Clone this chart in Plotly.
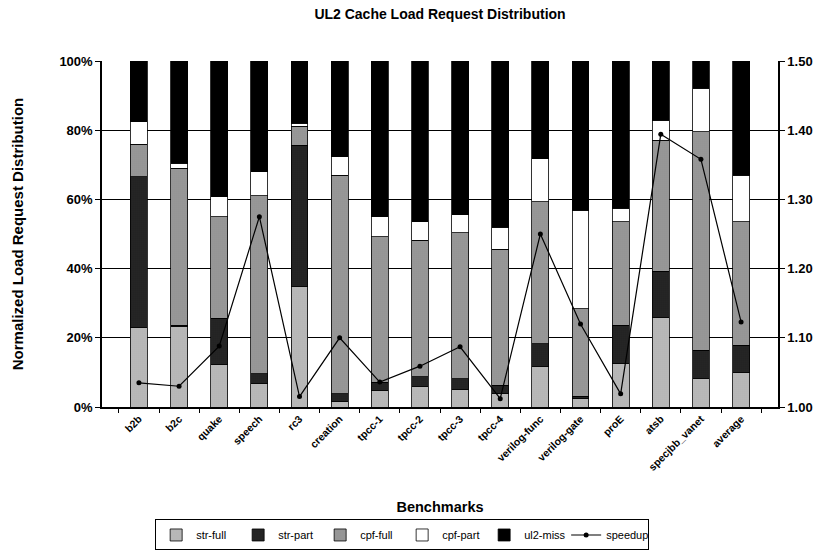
import plotly.graph_objects as go

categories = ["b2b", "b2c", "quake", "speech", "rc3", "creation", "tpcc-1", "tpcc-2",
              "tpcc-3", "tpcc-4", "verilog-func", "verilog-gate", "proE", "atsb",
              "specjbb_vanet", "average"]

str_full = [23.0, 23.2, 12.3, 6.8, 34.9, 1.5, 4.8, 5.8, 5.1, 3.9, 11.6, 2.4, 12.5, 26.0, 8.2, 10.1]
str_part = [43.5, 0.5, 13.4, 2.8, 40.8, 2.4, 2.4, 2.9, 3.1, 2.4, 6.7, 0.7, 11.1, 13.2, 8.2, 7.7]
cpf_full = [9.5, 45.3, 29.3, 51.4, 5.5, 63.1, 42.0, 39.5, 42.1, 39.3, 41.0, 25.3, 29.9, 37.9, 63.2, 35.7]
cpf_part = [6.4, 1.4, 5.8, 7.0, 0.8, 5.3, 5.8, 5.3, 5.3, 6.4, 12.5, 28.5, 3.9, 5.8, 12.5, 13.5]
ul2_miss = [17.6, 29.6, 39.2, 32.0, 18.0, 27.7, 45.0, 46.5, 44.4, 48.0, 28.2, 43.1, 42.6, 17.1, 7.9, 33.0]
speedup = [1.035, 1.030, 1.088, 1.275, 1.015, 1.100, 1.036, 1.059, 1.087, 1.012, 1.250,
           1.120, 1.019, 1.394, 1.358, 1.123]

left_tick_vals = [0, 20, 40, 60, 80, 100]
left_tick_text = ["0%", "20%", "40%", "60%", "80%", "100%"]
right_tick_vals = [1.00, 1.10, 1.20, 1.30, 1.40, 1.50]
right_tick_text = ["1.00", "1.10", "1.20", "1.30", "1.40", "1.50"]

FONT = "Liberation Sans"

series = [
    ("str-full", str_full, "#d2d2d2", ".", "#8c8c8c"),
    ("str-part", str_part, "#0c0c0c", ".", "#4a4a4a"),
    ("cpf-full", cpf_full, "#b2b2b2", ".", "#6a6a6a"),
    ("cpf-part", cpf_part, "#ffffff", "", "#ffffff"),
    ("ul2-miss", ul2_miss, "#000000", "", "#000000"),
]

fig = go.Figure()
for name, vals, bg, shape, fg in series:
    marker = dict(color=bg, line=dict(color="black", width=0.8))
    if shape:
        marker["pattern"] = dict(shape=shape, bgcolor=bg, fgcolor=fg, size=2, solidity=0.4,
                                 fillmode="replace")
    fig.add_trace(go.Bar(x=categories, y=vals, name=name, marker=marker, yaxis="y"))

fig.add_trace(go.Scatter(x=categories, y=speedup, name="speedup", yaxis="y2",
                         mode="lines+markers",
                         line=dict(color="black", width=1.2),
                         marker=dict(color="black", size=5, symbol="circle")))

fig.update_layout(
    barmode="stack",
    bargap=0.58,
    width=820, height=555,
    margin=dict(l=102, r=42, t=61, b=148),
    paper_bgcolor="white", plot_bgcolor="white",
    font=dict(family=FONT, color="black", size=11),
    title=dict(text="<b>UL2 Cache Load Request Distribution</b>", x=0.5, xanchor="center",
               xref="paper", y=0.984, yanchor="top", yref="container",
               font=dict(size=14, family=FONT)),
    xaxis=dict(
        type="category", tickangle=-45, automargin=False,
        tickfont=dict(size=10.5, family=FONT, weight="bold"),
        showline=True, linecolor="black", linewidth=1.5, mirror=False,
        ticks="outside", tickson="boundaries", ticklen=4, tickcolor="black",
        showgrid=False,
        title=dict(text="<b>Benchmarks</b>", font=dict(size=14.5), standoff=30),
    ),
    yaxis=dict(
        range=[0, 100], tickvals=left_tick_vals, ticktext=left_tick_text, automargin=False,
        tickfont=dict(size=13, family=FONT, weight="bold"),
        showline=True, linecolor="black", linewidth=1.5,
        ticks="outside", ticklen=5, tickcolor="black",
        showgrid=True, gridcolor="black", gridwidth=1, zeroline=False,
        title=dict(text="<b>Normalized Load Request Distribution</b>", font=dict(size=15),
                   standoff=32),
    ),
    yaxis2=dict(
        range=[1.0, 1.5], tickvals=right_tick_vals, ticktext=right_tick_text,
        overlaying="y", side="right", automargin=False,
        tickfont=dict(size=13, family=FONT, weight="bold"),
        showline=True, linecolor="black", linewidth=1.5,
        ticks="outside", ticklen=5, tickcolor="black",
        showgrid=False, zeroline=False,
    ),
    legend=dict(
        orientation="h", x=0.444, xanchor="center", y=0.064, yanchor="top", yref="container",
        bordercolor="black", borderwidth=1, font=dict(size=11, family=FONT),
        itemwidth=30, entrywidth=37, entrywidthmode="pixels",
        tracegroupgap=0, traceorder="normal",
    ),
)

fig.write_html("out.html", config={"displayModeBar": False},
               post_script="document.body.style.margin='0';document.body.style.overflow='hidden';")
